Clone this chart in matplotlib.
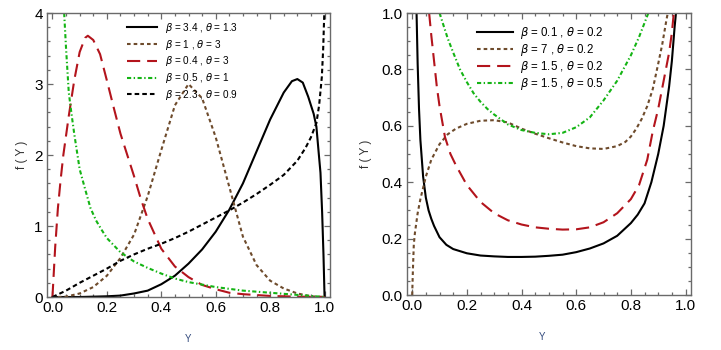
import numpy as np
import matplotlib.pyplot as plt
from matplotlib.ticker import MultipleLocator

plt.rcParams["font.family"] = ["Liberation Sans", "DejaVu Sans"]
plt.rcParams["lines.scale_dashes"] = False

# ---- left panel data ----
left_labels = [
    r"$\beta$ = 3.4 , $\theta$ = 1.3",
    r"$\beta$ = 1 , $\theta$ = 3",
    r"$\beta$ = 0.4 , $\theta$ = 3",
    r"$\beta$ = 0.5 , $\theta$ = 1",
    r"$\beta$ = 2.3 , $\theta$ = 0.9",
]

a_x = [0.0, 0.1, 0.2, 0.25, 0.3, 0.35, 0.4, 0.45, 0.5, 0.55, 0.6, 0.65, 0.7,
       0.75, 0.8, 0.85, 0.88, 0.9, 0.92, 0.94, 0.95, 0.96, 0.97, 0.978, 0.985,
       0.991, 0.996, 1.0]
a_y = [0.0, 0.0, 0.01, 0.02, 0.05, 0.09, 0.18, 0.3, 0.47, 0.67, 0.92, 1.23, 1.6,
       2.05, 2.5, 2.88, 3.04, 3.07, 3.02, 2.82, 2.7, 2.58, 2.4, 2.05, 1.75,
       1.2, 0.6, 0.0]

b_x = [0.02, 0.05, 0.1, 0.15, 0.2, 0.25, 0.3, 0.35, 0.4, 0.45, 0.5, 0.55, 0.6,
       0.65, 0.7, 0.75, 0.8, 0.85, 0.9, 0.95, 1.0]
b_y = [0.0, 0.005, 0.05, 0.14, 0.3, 0.55, 0.88, 1.42, 2.07, 2.7, 3.0, 2.8, 2.25,
       1.55, 0.85, 0.45, 0.23, 0.12, 0.05, 0.01, 0.0]

c_x = [0.0, 0.01, 0.02, 0.03, 0.04, 0.06, 0.08, 0.1, 0.12, 0.13, 0.15, 0.175,
       0.2, 0.225, 0.25, 0.275, 0.3, 0.325, 0.35, 0.4, 0.45, 0.5, 0.55, 0.6,
       0.65, 0.7, 0.8, 0.9, 1.0]
c_y = [0.0, 0.7, 1.25, 1.65, 2.0, 2.55, 3.05, 3.45, 3.65, 3.68, 3.62, 3.42,
       3.05, 2.67, 2.3, 2.0, 1.7, 1.38, 1.1, 0.68, 0.43, 0.28, 0.17, 0.11,
       0.06, 0.04, 0.015, 0.005, 0.0]

d_x = [0.043, 0.05, 0.06, 0.07, 0.08, 0.09, 0.1, 0.12, 0.14, 0.16, 0.18, 0.2,
       0.25, 0.3, 0.35, 0.4, 0.45, 0.5, 0.6, 0.7, 0.8, 0.9, 0.95, 1.0]
d_y = [4.0, 3.5, 2.88, 2.58, 2.3, 2.05, 1.8, 1.52, 1.25, 1.08, 0.95, 0.83,
       0.63, 0.5, 0.41, 0.33, 0.26, 0.21, 0.14, 0.09, 0.06, 0.03, 0.015, 0.0]

e_x = [0.0, 0.05, 0.1, 0.15, 0.2, 0.25, 0.3, 0.35, 0.4, 0.45, 0.5, 0.55, 0.6,
       0.65, 0.7, 0.75, 0.8, 0.85, 0.9, 0.93, 0.95, 0.97, 0.98, 0.99, 0.995,
       0.999]
e_y = [0.0, 0.09, 0.2, 0.3, 0.4, 0.51, 0.6, 0.68, 0.75, 0.83, 0.92, 1.02, 1.12,
       1.22, 1.33, 1.45, 1.58, 1.72, 1.92, 2.1, 2.25, 2.45, 2.7, 3.1, 3.5, 4.0]

# ---- right panel data ----
right_labels = [
    r"$\beta$ = 0.1 , $\theta$ = 0.2",
    r"$\beta$ = 7 , $\theta$ = 0.2",
    r"$\beta$ = 1.5 , $\theta$ = 0.2",
    r"$\beta$ = 1.5 , $\theta$ = 0.5",
]

p_x = [0.016, 0.02, 0.025, 0.03, 0.04, 0.05, 0.06, 0.07, 0.08, 0.1, 0.125,
       0.15, 0.2, 0.25, 0.3, 0.35, 0.4, 0.45, 0.5, 0.55, 0.6, 0.65, 0.7, 0.75,
       0.8, 0.825, 0.85, 0.875, 0.9, 0.92, 0.94, 0.95, 0.96, 0.965]
p_y = [1.0, 0.82, 0.66, 0.55, 0.42, 0.345, 0.3, 0.27, 0.245, 0.205, 0.178,
       0.163, 0.148, 0.14, 0.137, 0.135, 0.135, 0.136, 0.139, 0.143, 0.152,
       0.165, 0.183, 0.21, 0.255, 0.285, 0.325, 0.4, 0.5, 0.6, 0.74, 0.83,
       0.95, 1.0]

q_x = [0.0, 0.003, 0.006, 0.01, 0.02, 0.03, 0.04, 0.05, 0.07, 0.1, 0.13, 0.16,
       0.2, 0.25, 0.3, 0.35, 0.4, 0.45, 0.5, 0.55, 0.6, 0.65, 0.7, 0.75, 0.78,
       0.8, 0.82, 0.84, 0.86, 0.88, 0.9, 0.915, 0.93, 0.935]
q_y = [0.0, 0.1, 0.18, 0.22, 0.29, 0.34, 0.38, 0.42, 0.48, 0.535, 0.57, 0.59,
       0.607, 0.618, 0.62, 0.612, 0.59, 0.572, 0.556, 0.541, 0.528, 0.52,
       0.518, 0.528, 0.543, 0.562, 0.59, 0.625, 0.67, 0.73, 0.82, 0.89, 0.975,
       1.0]

r_x = [0.062, 0.07, 0.08, 0.09, 0.1, 0.12, 0.14, 0.16, 0.18, 0.2, 0.25, 0.3,
       0.35, 0.4, 0.45, 0.5, 0.55, 0.6, 0.65, 0.7, 0.75, 0.8, 0.83, 0.86, 0.88,
       0.9, 0.92, 0.94, 0.95, 0.957]
r_y = [1.0, 0.92, 0.83, 0.74, 0.67, 0.56, 0.5, 0.46, 0.425, 0.39, 0.33, 0.29,
       0.265, 0.25, 0.24, 0.235, 0.232, 0.233, 0.24, 0.258, 0.29, 0.34, 0.39,
       0.48, 0.58, 0.66, 0.76, 0.86, 0.93, 1.0]

s_x = [0.1, 0.11, 0.13, 0.15, 0.175, 0.2, 0.225, 0.25, 0.275, 0.3, 0.35, 0.4,
       0.45, 0.5, 0.55, 0.6, 0.65, 0.7, 0.75, 0.8, 0.83, 0.86, 0.864]
s_y = [1.0, 0.97, 0.91, 0.86, 0.8, 0.755, 0.715, 0.685, 0.66, 0.64, 0.605,
       0.585, 0.575, 0.57, 0.575, 0.595, 0.63, 0.69, 0.76, 0.85, 0.915, 0.99,
       1.0]

# ---- styles ----
BROWN = "#6e4b2c"
RED = "#b3141c"
GREEN = "#14b414"
FRAME = "#6a6a6a"
LW = 1.5

sty_solid = dict(color="black", lw=LW, ls="-")
sty_brown = dict(color=BROWN, lw=LW, ls=(0, (2.6, 2.2)))
sty_red = dict(color=RED, lw=LW, ls=(0, (9.5, 5.0)))
sty_green = dict(color=GREEN, lw=LW, ls=(0, (3.0, 1.8, 1.0, 1.8)))
sty_black_dash = dict(color="black", lw=LW, ls=(0, (3.3, 2.2)))

fig = plt.figure(figsize=(7.21, 3.5), dpi=100)
ax1 = fig.add_axes([0.0652, 0.1514, 0.3925, 0.8114])
ax2 = fig.add_axes([0.5641, 0.1571, 0.3943, 0.8057])


def style_axes(ax, ymax, ymajor, yminor):
    ax.set_xlim(-0.02, 1.02)
    ax.set_ylim(0, ymax)
    ax.xaxis.set_major_locator(MultipleLocator(0.2))
    ax.xaxis.set_minor_locator(MultipleLocator(0.05))
    ax.yaxis.set_major_locator(MultipleLocator(ymajor))
    ax.yaxis.set_minor_locator(MultipleLocator(yminor))
    ax.tick_params(which="both", direction="in", top=True, right=True,
                   color=FRAME, width=0.9, labelsize=11, pad=3)
    ax.tick_params(which="major", length=4)
    ax.tick_params(which="minor", length=2.2)
    for sp in ax.spines.values():
        sp.set_color(FRAME)
        sp.set_linewidth(1.0)


style_axes(ax1, 4, 1, 0.2)
ax1.xaxis.set_major_formatter(plt.FuncFormatter(lambda v, p: f"{v:.1f}"))
ax1.yaxis.set_major_formatter(plt.FuncFormatter(lambda v, p: f"{v:.0f}"))

ax1.plot(a_x, a_y, label=left_labels[0], **sty_solid)
ax1.plot(b_x, b_y, label=left_labels[1], **sty_brown)
ax1.plot(c_x, c_y, label=left_labels[2], **sty_red)
ax1.plot(d_x, d_y, label=left_labels[3], **sty_green)
ax1.plot(e_x, e_y, label=left_labels[4], **sty_black_dash)

ax1.legend(loc="upper left", bbox_to_anchor=(0.283, 0.972), frameon=False,
           fontsize=7.2, borderpad=0, borderaxespad=0, handlelength=3.0,
           handletextpad=0.8, labelspacing=0.27)

style_axes(ax2, 1.0, 0.2, 0.05)
ax2.xaxis.set_major_formatter(plt.FuncFormatter(lambda v, p: f"{v:.1f}"))
ax2.yaxis.set_major_formatter(plt.FuncFormatter(lambda v, p: f"{v:.1f}"))

ax2.plot(p_x, p_y, label=right_labels[0], **sty_solid)
ax2.plot(q_x, q_y, label=right_labels[1], **sty_brown)
ax2.plot(r_x, r_y, label=right_labels[2], **sty_red)
ax2.plot(s_x, s_y, label=right_labels[3], **sty_green)

ax2.legend(loc="upper left", bbox_to_anchor=(0.247, 0.957), frameon=False,
           fontsize=8.3, borderpad=0, borderaxespad=0, handlelength=3.13,
           handletextpad=0.6, labelspacing=0.08)

for ax, xl, yl in [(ax1, 0.5, -0.067), (ax2, 0.475, -0.122)]:
    ax.set_xlabel("Y", fontsize=7, color="#334a7d")
    ax.xaxis.set_label_coords(xl, -0.13)
    ax.set_ylabel("f ( Y )", fontsize=8.5, color="#333333")
    ax.yaxis.set_label_coords(yl, 0.5)

fig.savefig("out.png", dpi=100)
